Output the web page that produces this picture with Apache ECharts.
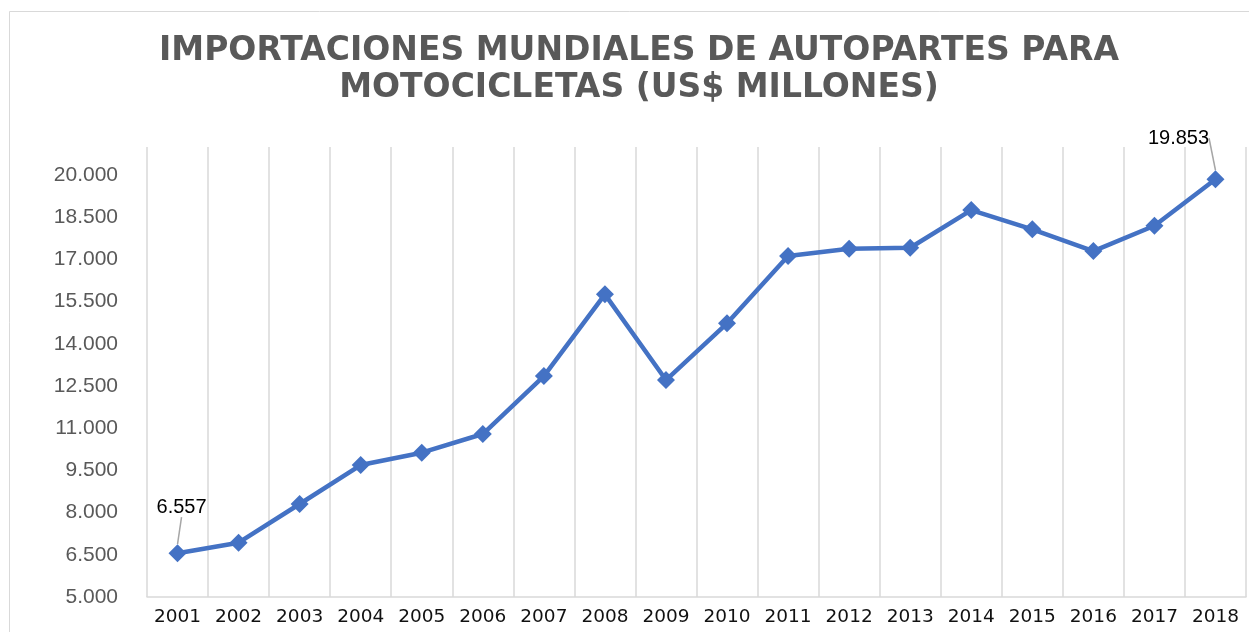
<!DOCTYPE html>
<html>
<head>
<meta charset="utf-8">
<script src="https://cdn.jsdelivr.net/npm/echarts@6/dist/echarts.min.js"></script>
<style>
html,body{margin:0;padding:0;background:#fff;}
#chart{width:1249px;height:632px;}
</style>
</head>
<body>
<div id="chart"></div>
<script>
const titleText = 'IMPORTACIONES MUNDIALES DE AUTOPARTES PARA\nMOTOCICLETAS (US$ MILLONES)';
const years = ['2001','2002','2003','2004','2005','2006','2007','2008','2009','2010','2011','2012','2013','2014','2015','2016','2017','2018'];
const imports = [6557, 6930, 8306, 9692, 10130, 10795, 12856, 15761, 12714, 14730, 17122, 17382, 17417, 18758, 18072, 17300, 18200, 19853];
const labeledIndices = [0, 17];

function fmt(v){
  return String(Math.round(v)).replace(/\B(?=(\d{3})+(?!\d))/g, '.');
}

const chart = echarts.init(document.getElementById('chart'), null, {renderer:'canvas'});
chart.setOption({
  backgroundColor: '#ffffff',
  animation: false,
  graphic: [{
    type: 'rect',
    left: 7, top: 9,
    shape: {width: 1260, height: 640},
    style: {fill: 'none', stroke: '#d9d9d9', lineWidth: 1},
    silent: true, z: -1
  }],
  title: {
    text: titleText,
    left: 634,
    textAlign: 'center',
    top: 28,
    textStyle: {
      fontFamily: 'DejaVu Sans',
      fontWeight: 'bold',
      fontSize: 33,
      color: '#595959',
      lineHeight: 37
    }
  },
  grid: {left: 147, right: 3, top: 147, bottom: 35, containLabel: false},
  xAxis: {
    type: 'category',
    data: years,
    boundaryGap: true,
    axisLine: {show: true, lineStyle: {color: '#d9d9d9', width: 1.5}},
    axisTick: {show: false},
    splitLine: {show: true, lineStyle: {color: '#d9d9d9', width: 1.5}},
    axisLabel: {
      interval: 0,
      margin: 11,
      fontFamily: 'DejaVu Sans',
      fontSize: 18.5,
      color: '#111111'
    }
  },
  yAxis: {
    type: 'value',
    min: 5000,
    max: 21000,
    interval: 1500,
    axisLine: {show: false},
    axisTick: {show: false},
    splitLine: {show: false},
    axisLabel: {
      showMaxLabel: false,
      margin: 29,
      fontFamily: 'Liberation Sans',
      fontSize: 21,
      color: '#595959',
      formatter: fmt
    }
  },
  series: [{
    type: 'line',
    data: imports.map((v, i) => ({
      value: v,
      label: {show: labeledIndices.indexOf(i) >= 0}
    })),
    symbol: 'diamond',
    symbolSize: 18,
    itemStyle: {color: '#4472C4'},
    lineStyle: {color: '#4472C4', width: 4.5},
    label: {
      show: false,
      position: 'top',
      distance: 5,
      fontFamily: 'Liberation Sans',
      fontSize: 20,
      color: '#000000',
      formatter: p => fmt(p.value)
    },
    labelLine: {show: true, lineStyle: {color: '#a6a6a6', width: 1.5}},
    labelLayout: function (params) {
      if (params.dataIndex === 0) return {dx: 4, dy: -22};
      if (params.dataIndex === imports.length - 1) return {dx: -37, dy: -17};
      return {};
    }
  }]
});
</script>
</body>
</html>
